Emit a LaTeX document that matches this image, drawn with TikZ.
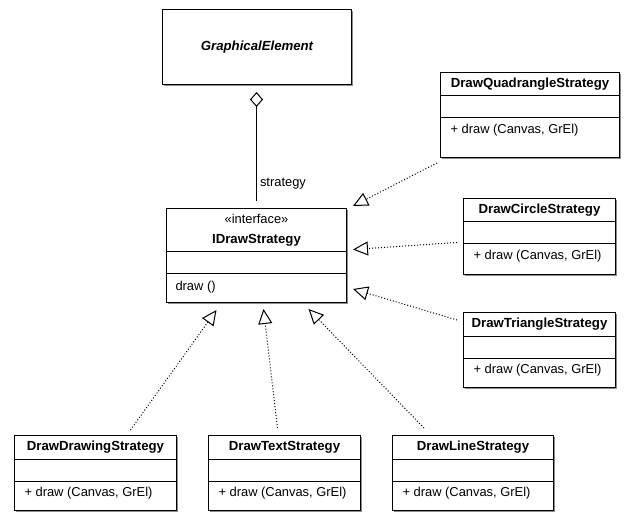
\documentclass[tikz,border=0pt]{standalone}
\usepackage{fontspec}
\setmainfont{Liberation Sans}
\usetikzlibrary{arrows.meta,calc,shadows}

\newcommand{\umlclass}[6]{%
  \node[classbox, minimum width=#4pt, minimum height=#5pt] (#1) at (#2,#3) {};
  \node[classname] (#1-name) at ($(#1.north)+(0,12.5)$) {#6};
  \draw ($(#1.north west)+(0,24)$) -- ($(#1.north east)+(0,24)$);
  \draw ($(#1.north west)+(0,46)$) -- ($(#1.north east)+(0,46)$);
  \node[member] (#1-op) at ($(#1.north west)+(10,58)$) {+ draw (Canvas, GrEl)};
}

\begin{document}
\begin{tikzpicture}[x=1pt, y=-1pt, line width=1pt,
  classbox/.style={draw, anchor=north west, inner sep=0pt, fill=white,
    drop shadow={shadow xshift=1.5pt, shadow yshift=-1.5pt, fill=black!45, opacity=1}},
  classname/.style={inner sep=0pt, font=\fontsize{13.2}{15}\selectfont\bfseries},
  member/.style={inner sep=0pt, anchor=west, font=\fontsize{12.9}{15}\selectfont},
  realize/.style={dash pattern=on 1pt off 2pt, -{Triangle[open, length=15pt, width=14pt, fill=white]}},
  aggr/.style={{Diamond[open, length=15pt, width=13pt, fill=white]}-, shorten <=7pt, shorten >=7pt}]
\useasboundingbox (0,0) rectangle (639,526);

\node[classbox, minimum width=189pt, minimum height=75pt, font=\fontsize{13.2}{15}\selectfont\bfseries\itshape] (elem) at (162,9) {GraphicalElement};

\node[classbox, minimum width=180pt, minimum height=94pt] (strat) at (166,208) {};
\node[member, anchor=center] (strat-stereo) at ($(strat.north)+(0,11)$) {«interface»};
\node[classname] (strat-name) at ($(strat.north)+(0,32)$) {IDrawStrategy};
\draw ($(strat.north west)+(0,44)$) -- ($(strat.north east)+(0,44)$);
\draw ($(strat.north west)+(0,66)$) -- ($(strat.north east)+(0,66)$);
\node[member] (strat-op) at ($(strat.north west)+(9,79)$) {draw ()};

\umlclass{quadS}{440}{72}{179}{85}{DrawQuadrangleStrategy}
\umlclass{circS}{463}{198}{152}{76}{DrawCircleStrategy}
\umlclass{triS}{463}{312}{152}{75}{DrawTriangleStrategy}
\umlclass{drawS}{14}{435}{162}{75}{DrawDrawingStrategy}
\umlclass{textS}{208}{435}{152}{75}{DrawTextStrategy}
\umlclass{lineS}{392}{435}{161}{75}{DrawLineStrategy}

\draw[aggr] (strat.north |- elem.south) -- node[member, pos=0.8, xshift=3pt] (role) {strategy} (strat.north);

\draw[realize] ([xshift=-3pt, yshift=-5pt]quadS.south west) -- ([xshift=6pt, yshift=2pt]strat.north east);
\draw[realize] ([xshift=-6pt, yshift=-6pt]circS.west) -- ([xshift=6pt, yshift=6pt]strat.east);
\draw[realize] ([xshift=-6pt, yshift=-8pt]triS.north west) -- ([xshift=6pt, yshift=14pt]strat.south east);
\draw[realize] ([xshift=35pt, yshift=5pt]drawS.north) -- ([xshift=-40pt, yshift=-7pt]strat.south);
\draw[realize] ([xshift=-7pt, yshift=7pt]textS.north) -- ([xshift=7pt, yshift=-6pt]strat.south);
\draw[realize] ([xshift=-49pt, yshift=7pt]lineS.north) -- ([xshift=52pt, yshift=-6pt]strat.south);
\end{tikzpicture}
\end{document}
